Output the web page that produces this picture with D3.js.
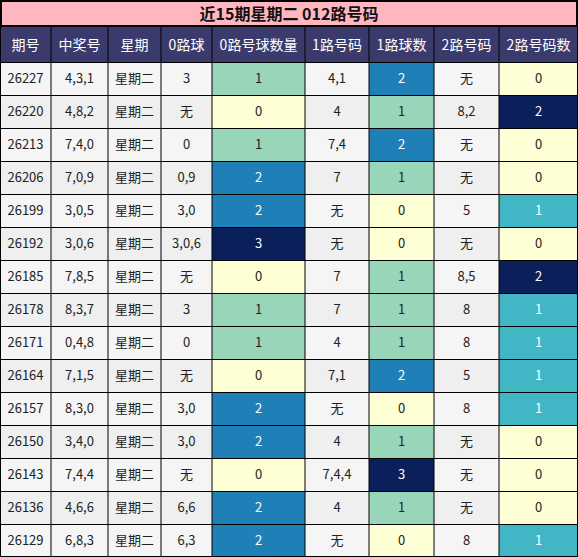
<!DOCTYPE html><html><head><meta charset="utf-8"><script src="https://cdn.jsdelivr.net/npm/d3@7"></script>
<style>body{margin:0;background:#fff}</style></head><body><svg id="c" width="578" height="557"></svg><script>
const title="近15期星期二 012路号码";
const headers=["期号","中奖号","星期","0路球","0路号球数量","1路号码","1路球数","2路号码","2路号码数"];
const issues=["26227","26220","26213","26206","26199","26192","26185","26178","26171","26164","26157","26150","26143","26136","26129"];
const nums=["4,3,1","4,8,2","7,4,0","7,0,9","3,0,5","3,0,6","7,8,5","8,3,7","0,4,8","7,1,5","8,3,0","3,4,0","7,4,4","4,6,6","6,8,3"];
const r0=["3","无","0","0,9","3,0","3,0,6","无","3","0","无","3,0","3,0","无","6,6","6,3"];
const c0=[1,0,1,2,2,3,0,1,1,0,2,2,0,2,2];
const r1=["4,1","4","7,4","7","无","无","7","7","4","7,1","无","4","7,4,4","4","无"];
const c1=[2,1,2,1,0,0,1,1,1,2,0,1,3,1,0];
const r2=["无","8,2","无","无","5","无","8,5","8","8","5","8","无","无","无","8"];
const c2=[0,2,0,0,1,0,2,1,1,1,1,0,0,0,1];
const xs=[0,51,108,161,212,305,369,434,499,578];
const svg=d3.select("#c");
const font="'Noto Sans CJK SC','Noto Sans',sans-serif";
const yRow=d3.scaleLinear().domain([0,15]).range([62,557]);
const colA=d3.scaleOrdinal().domain([0,1,2,3]).range(["#ffffd5","#99d6b9","#1f80b8","#0b1f5b"]);
const colB=d3.scaleOrdinal().domain([0,1,2]).range(["#ffffd5","#41b6c4","#0b1f5b"]);
svg.append("rect").attr("x",1).attr("y",1).attr("width",576).attr("height",25).attr("fill","#ffb6c1").attr("stroke","#000").attr("stroke-width",2);
svg.append("text").attr("x",289).attr("y",14).attr("dy","0.35em").attr("text-anchor","middle").attr("font-family",font).attr("font-weight","bold").attr("font-size",16).attr("fill","#111").text(title);
svg.append("rect").attr("x",0).attr("y",27).attr("width",578).attr("height",35).attr("fill","#3b3a6c");
headers.forEach((h,i)=>{svg.append("text").attr("x",(xs[i]+xs[i+1])/2).attr("y",45).attr("dy","0.35em").attr("text-anchor","middle").attr("font-family",font).attr("font-size",14).attr("fill","#fff").text(h);});
const cols=[issues,nums,issues.map(()=>"星期二"),r0,c0,r1,c1,r2,c2];
issues.forEach((_,r)=>{
 const y0=yRow(r),y1=yRow(r+1);
 cols.forEach((arr,i)=>{
  let fill=r%2===0?"#f5f5f5":"#efefef",tc="#222";
  const v=arr[r];
  if(i===4||i===6){fill=colA(v);if(v>=2)tc="#fff";}
  if(i===8){fill=colB(v);if(v>=1)tc="#fff";}
  svg.append("rect").attr("x",xs[i]).attr("y",y0).attr("width",xs[i+1]-xs[i]).attr("height",y1-y0).attr("fill",fill);
  svg.append("text").attr("x",(xs[i]+xs[i+1])/2).attr("y",(y0+y1)/2).attr("dy","0.35em").attr("text-anchor","middle").attr("font-family",font).attr("font-size",13).attr("fill",tc).text(v);
 });
});
const g=svg.append("g").attr("stroke","#000").attr("stroke-width",1);
xs.forEach(x=>{const xx=Math.min(Math.max(x,0.5),577.5);g.append("line").attr("x1",xx).attr("x2",xx).attr("y1",27).attr("y2",557);});
d3.range(16).forEach(r=>{const y=Math.round(yRow(r))+0.5;g.append("line").attr("x1",0).attr("x2",578).attr("y1",y).attr("y2",y);});
g.append("line").attr("x1",0).attr("x2",578).attr("y1",556.5).attr("y2",556.5);
</script></body></html>
